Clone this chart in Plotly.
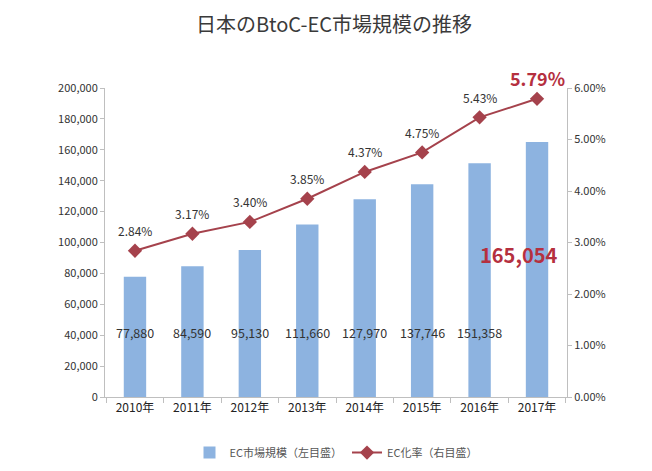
import plotly.graph_objects as go

# ---------------------------------------------------------------------------
# Data
# ---------------------------------------------------------------------------
years = ["2010年", "2011年", "2012年", "2013年", "2014年", "2015年", "2016年", "2017年"]
market_size = [77880, 84590, 95130, 111660, 127970, 137746, 151358, 165054]   # 億円
ec_rate = [0.0284, 0.0317, 0.0340, 0.0385, 0.0437, 0.0475, 0.0543, 0.0579]

y_ticks = [0, 20000, 40000, 60000, 80000, 100000, 120000, 140000, 160000, 180000, 200000]
y2_ticks = [0, 0.01, 0.02, 0.03, 0.04, 0.05, 0.06]

FONT = "Noto Sans CJK JP"
BAR = "#8db3e0"
LINE = "#a5424c"
HILITE = "#b5303f"

fig = go.Figure()

fig.add_trace(go.Bar(
    x=years, y=market_size, name="EC市場規模（左目盛）",
    marker=dict(color=BAR, line=dict(width=0)),
    width=0.39,
))

fig.add_trace(go.Scatter(
    x=years, y=ec_rate, name="EC化率（右目盛）", yaxis="y2",
    mode="lines+markers",
    line=dict(color=LINE, width=2),
    marker=dict(symbol="diamond", size=11, color=LINE),
))

# bar value labels (last one highlighted)
for i, (yr, v) in enumerate(zip(years, market_size)):
    last = i == len(years) - 1
    fig.add_annotation(
        x=yr, y=92000 if last else 42000, yref="y",
        text=f"{v:,}", showarrow=False,
        xshift=-18 if last else 0,
        font=dict(family=FONT, size=20 if last else 12.5,
                  color=HILITE if last else "#333333",
                  weight="bold" if last else "normal"),
    )

# rate labels above markers
for i, (yr, r) in enumerate(zip(years, ec_rate)):
    last = i == len(years) - 1
    fig.add_annotation(
        x=yr, y=r, yref="y2", text=f"{r*100:.2f}%", showarrow=False,
        yshift=21 if last else 20,
        font=dict(family=FONT, size=18 if last else 12,
                  color=HILITE if last else "#333333",
                  weight="bold" if last else "normal"),
    )

fig.update_layout(
    width=652, height=471,
    margin=dict(l=97, r=93, t=80, b=68),
    paper_bgcolor="white", plot_bgcolor="white",
    title=dict(text="日本のBtoC-EC市場規模の推移", x=0.5, xanchor="center",
               y=0.963, yanchor="middle",
               font=dict(family=FONT, size=20, color="#3a3a3a")),
    font=dict(family=FONT, color="#404040"),
    showlegend=True,
    legend=dict(orientation="h", x=0.5, xanchor="center", y=-0.18, yanchor="middle",
                font=dict(family=FONT, size=11, color="#555555")),
    xaxis=dict(
        showline=True, linecolor="#bfbfbf", linewidth=1,
        ticks="outside", ticklen=5, tickcolor="#bfbfbf",
        tickson="boundaries",
        tickfont=dict(family=FONT, size=12, color="#222222"),
        showgrid=False,
    ),
    yaxis=dict(
        range=[0, 200000], tickvals=y_ticks,
        tickformat=",", showgrid=False, zeroline=False,
        showline=True, linecolor="#bfbfbf", linewidth=1,
        ticks="outside", ticklen=4, tickcolor="#bfbfbf",
        tickfont=dict(family=FONT, size=11, color="#333333"),
    ),
    yaxis2=dict(
        overlaying="y", side="right",
        range=[0, 0.06], tickvals=y2_ticks, tickformat=".2%",
        showgrid=False, zeroline=False,
        showline=True, linecolor="#bfbfbf", linewidth=1,
        ticks="outside", ticklen=4, tickcolor="#bfbfbf",
        tickfont=dict(family=FONT, size=11, color="#333333"),
    ),
)

fig.write_html("out.html")
